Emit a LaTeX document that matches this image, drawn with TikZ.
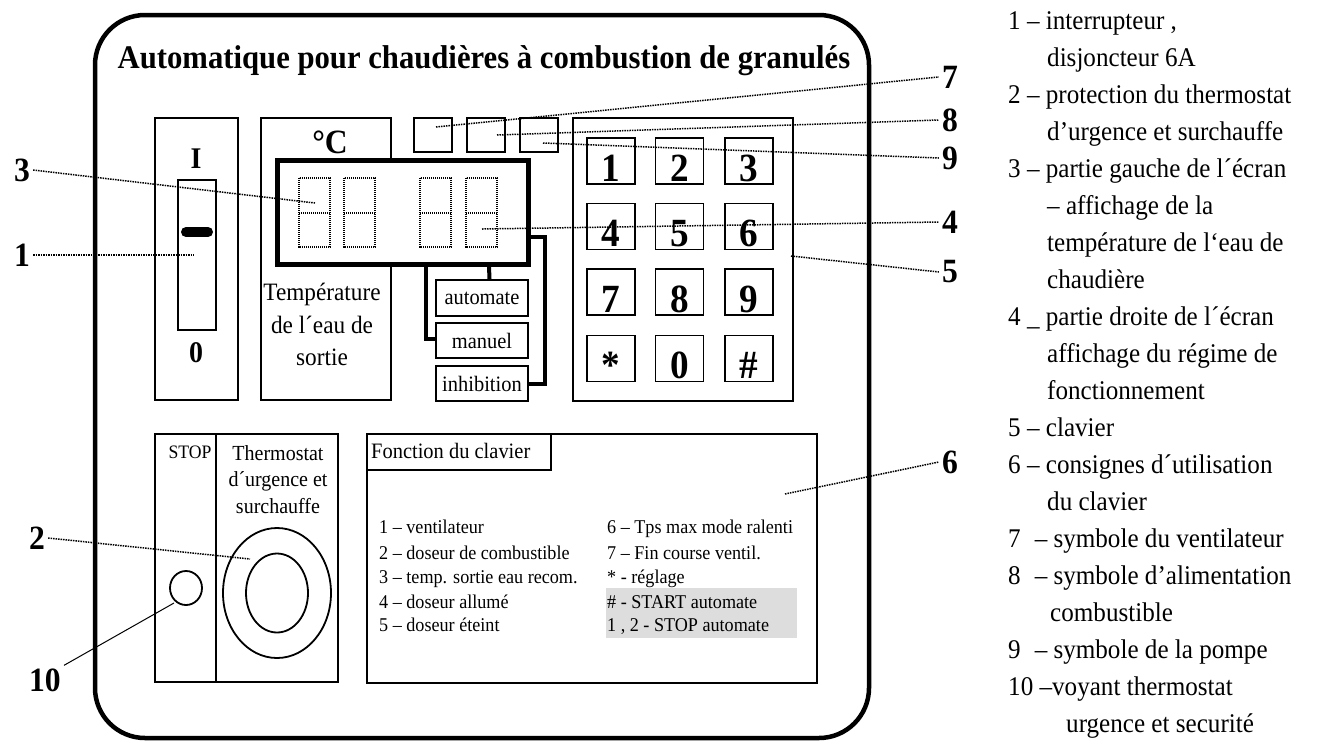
\documentclass[tikz,border=0pt]{standalone}
\usepackage{fontspec}
\setmainfont{Liberation Serif}[FakeStretch=0.93]
\newcommand\fsz[2]{\fontsize{#1}{#2}\selectfont}
\definecolor{hl}{HTML}{DDDDDD}
\begin{document}
\begin{tikzpicture}[x=1pt,y=-1pt,
  lbl/.style={font=\bfseries\fsz{34}{34}, inner sep=3pt},
  lead/.style={line width=1.5pt, dash pattern=on 1.5pt off 1pt},
  box/.style={draw, line width=1.8pt},
  dig/.style={line width=1.3pt, dash pattern=on 1.2pt off 0.8pt},
  conn/.style={line width=4pt},
  btn/.style={draw, line width=1.8pt, minimum width=92pt, minimum height=35pt, inner sep=0pt, font=\fsz{22}{22}},
  key/.style={draw, line width=1.4pt, minimum width=48pt, minimum height=46pt, inner sep=0pt, font=\bfseries\fsz{40}{40}},
  leg/.style={anchor=base west, inner sep=0pt, font=\fsz{27}{27}},
  lst/.style={anchor=base west, inner sep=0pt, font=\fsz{19.5}{19.5}},
  txt/.style={anchor=base, inner sep=0pt}]
\useasboundingbox (0,0) rectangle (1317,740);

% outer frame
\draw[line width=4.5pt, rounded corners=50pt] (95,15) rectangle (869,738);
\node[font=\bfseries\fsz{33}{33}, anchor=base, inner sep=0pt] (title) at (484,68) {Automatique pour chaudières à combustion de granulés};

% switch
\draw[box] (155,118) rectangle (238,400);
\draw[box] (178,180) rectangle (216,330);
\draw[line width=10pt, line cap=round] (186,232) -- (208,232);
\node[font=\bfseries\fsz{30}{30}] (swI) at (196,159) {I};
\node[font=\bfseries\fsz{30}{30}] (sw0) at (196,353) {0};

% temperature box
\draw[box] (261,118) rectangle (391,400);
\node[font=\bfseries\fsz{34}{34}] (degC) at (330,142) {°C};
\node[txt, font=\fsz{25}{25}] (t1) at (322,300) {Température};
\node[txt, font=\fsz{25}{25}] (t2) at (322,333) {de l´eau de};
\node[txt, font=\fsz{25}{25}] (t3) at (322,365) {sortie};

% display
\node[draw, line width=5pt, fill=white, minimum width=251pt, minimum height=104pt, inner sep=0pt] (disp) at (402.5,212) {};
\foreach \dx in {299,344,420,466}{
  \draw[dig] (\dx,178) rectangle (\dx+31,247);
  \draw[dig] (\dx,213) -- (\dx+31,213);
}

% symbol squares
\draw[box] (414,118) rectangle (452,152);
\draw[box] (467,118) rectangle (505,152);
\draw[box] (520,118) rectangle (558,152);

% mode buttons
\node[btn, minimum height=36pt] (auto) at (482,298) {automate};
\node[btn] (manu) at (482,340.5) {manuel};
\node[btn] (inhib) at (482,383.5) {inhibition};
\draw[conn] ([xshift=86.5pt]disp.south) -- ([xshift=7.5pt]auto.north);
\draw[conn] ([xshift=151.5pt]disp.south west) |- ([yshift=1.5pt]manu.west);
\draw[conn] ([yshift=-25pt]disp.east) -- ++(14.5,0) |- (inhib.east);

% keypad
\draw[box] (573,118) rectangle (793,401);
\node[key] (k1) at (611,161) {\raisebox{-20pt}[0pt][0pt]{1}};
\node[key] (k2) at (679.5,161) {\raisebox{-20pt}[0pt][0pt]{2}};
\node[key] (k3) at (749,161) {\raisebox{-20pt}[0pt][0pt]{3}};
\node[key] (k4) at (611,226.5) {\raisebox{-20pt}[0pt][0pt]{4}};
\node[key] (k5) at (679.5,226.5) {\raisebox{-20pt}[0pt][0pt]{5}};
\node[key] (k6) at (749,226.5) {\raisebox{-20pt}[0pt][0pt]{6}};
\node[key] (k7) at (611,292) {\raisebox{-20pt}[0pt][0pt]{7}};
\node[key] (k8) at (679.5,292) {\raisebox{-20pt}[0pt][0pt]{8}};
\node[key] (k9) at (749,292) {\raisebox{-20pt}[0pt][0pt]{9}};
\node[key] (ks) at (611,358.5) {\raisebox{-20pt}[0pt][0pt]{*}};
\node[key] (k0) at (679.5,358.5) {\raisebox{-20pt}[0pt][0pt]{0}};
\node[key] (kh) at (749,358.5) {\raisebox{-20pt}[0pt][0pt]{\#}};

% thermostat box
\draw[box] (155,434) rectangle (338,682);
\draw[box] (216,434) -- (216,682);
\node[txt, font=\fsz{19}{19}] (stop) at (190,458) {STOP};
\node[txt, font=\fsz{21.5}{21.5}] (th1) at (278,460) {Thermostat};
\node[txt, font=\fsz{21.5}{21.5}] (th2) at (278,486) {d´urgence et};
\node[txt, font=\fsz{21.5}{21.5}] (th3) at (278,513) {surchauffe};
\draw[line width=1.8pt] (277,593) ellipse [x radius=54pt, y radius=65pt];
\draw[line width=1.8pt] (277,593) ellipse [x radius=31pt, y radius=39.5pt];
\draw[line width=1.8pt] (186,588) ellipse [x radius=16pt, y radius=17pt];

% fonction du clavier
\draw[box] (367,434) rectangle (817,683);
\draw[box] (367,470) -- (551,470) -- (551,434);
\node[anchor=base west, inner sep=0pt, font=\fsz{22}{22}] (fct) at (371,458) {Fonction du clavier};
\fill[hl] (606,588) rectangle (797,638);
\node[lst] (a1) at (379,533) {1 – ventilateur};
\node[lst] (a2) at (379,559) {2 – doseur de combustible};
\node[lst] (a3) at (379,583) {3 – temp. sortie eau recom.};
\node[lst] (a4) at (379,608) {4 – doseur allumé};
\node[lst] (a5) at (379,631) {5 – doseur éteint};
\node[lst] (b1) at (607,533) {6 – Tps max mode ralenti};
\node[lst] (b2) at (607,559) {7 – Fin course ventil.};
\node[lst] (b3) at (607,583) {* - réglage};
\node[lst] (b4) at (607,608) {\# - START automate};
\node[lst] (b5) at (607,631) {1 , 2 - STOP automate};

% leader target points
\coordinate (p1) at (194,255);
\coordinate (p2) at (250,559);
\coordinate (p3) at (315,203);
\coordinate (p4) at (482,229);
\coordinate (p5) at (791,256);
\coordinate (p6) at (785,494);
\coordinate (p7) at (436,127);
\coordinate (p8) at (497,135);
\coordinate (p9) at (543,143);
\coordinate (p10) at (174,603);

% labels
\node[lbl] (l3) at (22,170) {3};
\node[lbl] (l1) at (22,255) {1};
\node[lbl] (l2) at (37,538) {2};
\node[lbl] (l10) at (45,680) {10};
\node[lbl] (l7) at (950,77) {7};
\node[lbl] (l8) at (950,120) {8};
\node[lbl] (l9) at (950,158) {9};
\node[lbl] (l4) at (950,222) {4};
\node[lbl] (l5) at (950,272) {5};
\node[lbl] (l6) at (950,462) {6};

\draw[lead] (l3.east) -- (p3);
\draw[lead] (l1.east) -- (p1);
\draw[lead] (l2.east) -- (p2);
\draw[line width=1pt] (l10.north east) -- (p10);
\draw[lead] (p7) -- (l7.west);
\draw[lead] (p8) -- (l8.west);
\draw[lead] (p9) -- (l9.west);
\draw[lead] (p4) -- (l4.west);
\draw[lead] (p5) -- (l5.west);
\draw[lead] (p6) -- (l6.west);

% legend
\node[leg] (g0) at (1008,29) {1 – interrupteur ,};
\node[leg] (g1) at (1047,66) {disjoncteur 6A};
\node[leg] (g2) at (1008,103) {2 – protection du thermostat};
\node[leg] (g3) at (1047,140) {d’urgence et surchauffe};
\node[leg] (g4) at (1008,177) {3 – partie gauche de l´écran};
\node[leg] (g5) at (1047,214) {– affichage de la};
\node[leg] (g6) at (1047,251) {température de l‘eau de};
\node[leg] (g7) at (1047,288) {chaudière};
\node[leg] (g8) at (1008,325) {4 \_ partie droite de l´écran};
\node[leg] (g9) at (1047,362) {affichage du régime de};
\node[leg] (g10) at (1047,399) {fonctionnement};
\node[leg] (g11) at (1008,436) {5 – clavier};
\node[leg] (g12) at (1008,473) {6 – consignes d´utilisation};
\node[leg] (g13) at (1047,510) {du clavier};
\node[leg] (g14) at (1008,547) {7\hspace{14pt}– symbole du ventilateur};
\node[leg] (g15) at (1008,584) {8\hspace{14pt}– symbole d’alimentation};
\node[leg] (g16) at (1050,621) {combustible};
\node[leg] (g17) at (1008,658) {9\hspace{14pt}– symbole de la pompe};
\node[leg] (g18) at (1008,695) {10 –voyant thermostat};
\node[leg] (g19) at (1066,732) {urgence et securité};
\end{tikzpicture}
\end{document}
